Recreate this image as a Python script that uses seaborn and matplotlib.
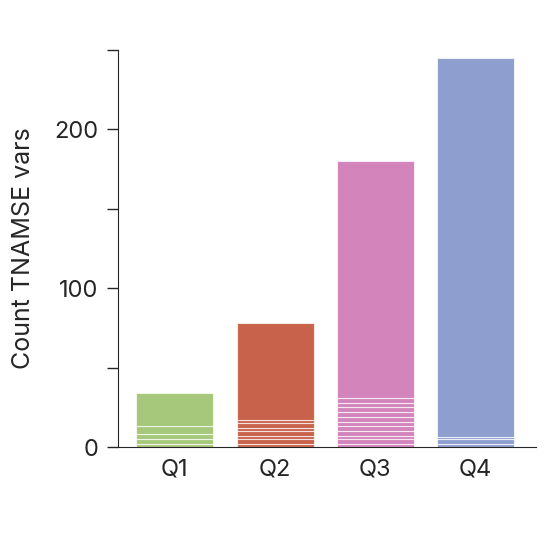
import matplotlib
matplotlib.use("Agg")
import matplotlib.pyplot as plt
import seaborn as sns

categories = ["Q1", "Q2", "Q3", "Q4"]
colors = ["#a5c87a", "#c9624a", "#d384bb", "#8e9ecf"]
# stacked segment heights per quarter (bottom to top)
segments = {
    "Q1": [2, 3, 3, 5, 21],
    "Q2": [2, 3, 2, 3, 2, 3, 2, 61],
    "Q3": [2, 3, 2, 3, 3, 3, 3, 3, 3, 3, 3, 149],
    "Q4": [2, 3, 1, 239],
}

sns.set_style("ticks")
plt.rcParams["font.family"] = ["Inter", "DejaVu Sans"]
fig = plt.figure(figsize=(5.58, 5.36), dpi=100)
ax = fig.add_axes([0.211, 0.166, 0.749, 0.741])
for i, (cat, col) in enumerate(zip(categories, colors)):
    bottom = 0
    for h in segments[cat]:
        ax.bar(i, h, bottom=bottom, width=0.77, color=col,
               edgecolor=(1, 1, 1, 0.7), linewidth=0.8)
        bottom += h
ax.set_xlim(-0.57, 3.6)
ax.set_ylim(0, 250)
ax.set_xticks(range(4))
ax.set_xticklabels(categories, fontsize=17)
ax.set_yticks([0, 50, 100, 150, 200, 250])
ax.set_yticklabels(["0", "", "100", "", "200", ""], fontsize=17)
ax.tick_params(axis="x", length=0, pad=8)
ax.tick_params(axis="y", length=8, width=1, pad=6)
ax.set_ylabel("Count TNAMSE vars", fontsize=18, labelpad=14)
for s in ["top", "right"]:
    ax.spines[s].set_visible(False)
fig.savefig("out.png", dpi=100)
